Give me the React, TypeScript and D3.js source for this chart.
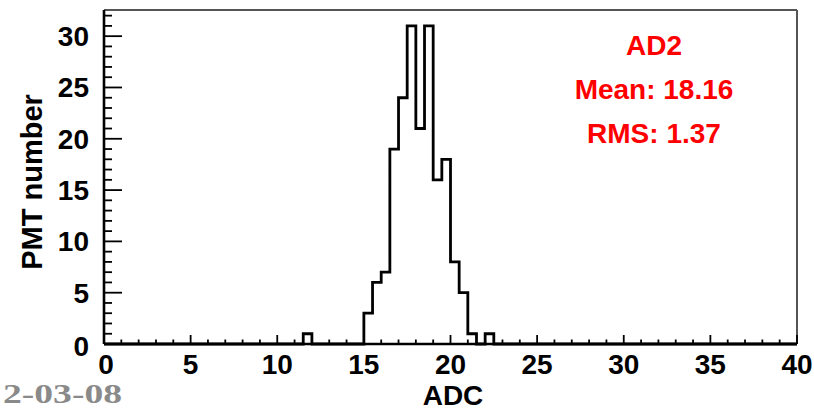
import React from "react";
import * as d3 from "d3";

// Histogram data (ADC, bin width 0.5) — only non-empty region listed
const binWidth = 0.5;
const binStarts = [11.5, 15.0, 15.5, 16.0, 16.5, 17.0, 17.5, 18.0, 18.5, 19.0, 19.5, 20.0, 20.5, 21.0, 21.5, 22.0];
const counts = [1, 3, 6, 7, 19, 24, 31, 21, 31, 16, 18, 8, 5, 1, 0, 1];
const xDomain = [0, 40];
const yDomain = [0, 32.55];
const xTickValues = [0, 5, 10, 15, 20, 25, 30, 35, 40];
const yTickValues = [0, 5, 10, 15, 20, 25, 30];
const statLines = ["AD2", "Mean: 18.16", "RMS: 1.37"];

const W = 814;
const H = 410;
const frame = { left: 104, right: 797, top: 10, bottom: 344 };
const FONT = "'Liberation Sans', Arial, Helvetica, sans-serif";

export default function App() {
  const x = d3.scaleLinear().domain(xDomain).range([frame.left, frame.right]);
  const y = d3.scaleLinear().domain(yDomain).range([frame.bottom, frame.top]);

  const nBins = Math.round((xDomain[1] - xDomain[0]) / binWidth);
  const full: { x0: number; c: number }[] = [];
  for (let i = 0; i < nBins; i++) {
    const x0 = xDomain[0] + i * binWidth;
    const idx = binStarts.findIndex((b) => Math.abs(b - x0) < 1e-6);
    full.push({ x0, c: idx >= 0 ? counts[idx] : 0 });
  }
  const pts: [number, number][] = full.map((d) => [d.x0, d.c]);
  pts.push([xDomain[1], 0]);
  const line = d3
    .line<[number, number]>()
    .x((d) => x(d[0]))
    .y((d) => y(d[1]))
    .curve(d3.curveStepAfter);
  const histPath = line(pts) || "";

  const xMinor = d3.range(0, 41, 1);
  const yMinor = d3.range(0, 33, 1);

  return (
    <svg
      width={W}
      height={H}
      style={{ position: "absolute", left: 0, top: 0, background: "#fff" }}
    >
      <rect x={0} y={0} width={W} height={H} fill="#fff" />
      <line x1={frame.left} x2={frame.right} y1={frame.top} y2={frame.top} stroke="#555" strokeWidth={2} />
      <line x1={frame.right} x2={frame.right} y1={frame.top} y2={frame.bottom} stroke="#555" strokeWidth={2} />

      <path d={histPath} fill="none" stroke="#000" strokeWidth={2.8} strokeLinejoin="miter" />

      {xMinor.map((v) => (
        <line
          key={"xm" + v}
          x1={x(v)}
          x2={x(v)}
          y1={frame.bottom}
          y2={frame.bottom - (v % 5 === 0 ? 9 : 4.5)}
          stroke="#000"
          strokeWidth={1.8}
        />
      ))}
      {yMinor.map((v) => (
        <line
          key={"ym" + v}
          x1={frame.left}
          x2={frame.left + (v % 5 === 0 ? 18 : 8)}
          y1={y(v)}
          y2={y(v)}
          stroke="#000"
          strokeWidth={1.8}
        />
      ))}
      <line x1={frame.left} x2={frame.right} y1={frame.bottom} y2={frame.bottom} stroke="#000" strokeWidth={2.6} />
      <line x1={frame.left} x2={frame.left} y1={frame.top} y2={frame.bottom} stroke="#000" strokeWidth={2.6} />

      {xTickValues.map((v) => (
        <text
          key={"xl" + v}
          x={x(v) + (v === 0 ? 2 : 0)}
          y={374}
          textAnchor="middle"
          fontFamily={FONT}
          fontWeight="bold"
          fontSize={28}
          fill="#000"
        >
          {v}
        </text>
      ))}
      {yTickValues.map((v) => (
        <text
          key={"yl" + v}
          x={89}
          y={y(v) + (v === 0 ? 12 : 10)}
          textAnchor="end"
          fontFamily={FONT}
          fontWeight="bold"
          fontSize={28}
          fill="#000"
        >
          {v}
        </text>
      ))}

      <text
        x={453}
        y={405}
        textAnchor="middle"
        fontFamily={FONT}
        fontWeight="bold"
        fontSize={28}
        fill="#000"
      >
        ADC
      </text>
      <text
        transform={`translate(42, 182) rotate(-90)`}
        textAnchor="middle"
        fontFamily={FONT}
        fontWeight="bold"
        fontSize={29}
        fill="#000"
      >
        PMT number
      </text>

      {statLines.map((s, i) => (
        <text
          key={"st" + i}
          x={654}
          y={55 + i * 44}
          textAnchor="middle"
          fontFamily={FONT}
          fontWeight="bold"
          fontSize={28}
          fill="#ff0000"
        >
          {s}
        </text>
      ))}

      <text
        x={3}
        y={403}
        fontFamily="'Liberation Serif', 'Times New Roman', serif"
        fontWeight="bold"
        fontSize={28}
        textLength={119}
        lengthAdjust="spacingAndGlyphs"
        fill="#8a8a8a"
      >
        2-03-08
      </text>
    </svg>
  );
}
